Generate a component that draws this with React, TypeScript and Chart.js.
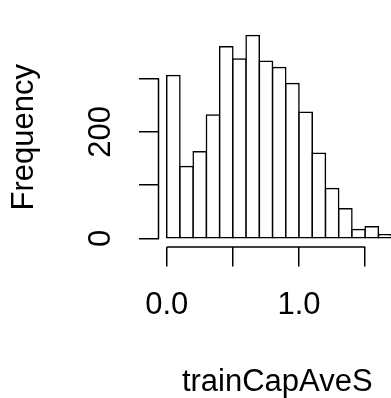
import React, { useEffect, useRef } from "react";
import { Chart, registerables } from "chart.js";

Chart.register(...registerables);

// Histogram bins (left edges) and bin width
const binStarts = [0.0, 0.1, 0.2, 0.3, 0.4, 0.5, 0.6, 0.7, 0.8, 0.9, 1.0, 1.1, 1.2, 1.3, 1.4, 1.5, 1.6];
const binWidth = 0.1;
// Frequencies per bin
const counts = [306, 135, 163, 232, 360, 337, 381, 333, 321, 291, 237, 160, 94, 56, 17, 22, 7];

const xTicks = [0, 0.5, 1.0, 1.5];
const xTickLabels = ["0.0", "", "1.0", ""];
const yTicks = [0, 100, 200, 300];
const yTickLabels = ["0", "", "200", ""];

const xTitle = "trainCapAveS";
const yTitle = "Frequency";

const FONT = "'Liberation Sans', Arial, Helvetica, sans-serif";
const FS = 31;

export default function App() {
  const ref = useRef<HTMLCanvasElement>(null);

  useEffect(() => {
    if (!ref.current) return;

    const axisLines = {
      id: "axisLines",
      afterDraw(chart: any) {
        const { ctx, chartArea, scales } = chart;
        const xs = scales.x;
        const ys = scales.y;
        ctx.save();
        ctx.strokeStyle = "#000";
        ctx.lineWidth = 1.5;
        ctx.beginPath();
        ctx.moveTo(xs.getPixelForValue(xTicks[0]), chartArea.bottom);
        ctx.lineTo(xs.getPixelForValue(xTicks[xTicks.length - 1]), chartArea.bottom);
        ctx.moveTo(chartArea.left, ys.getPixelForValue(yTicks[0]));
        ctx.lineTo(chartArea.left, ys.getPixelForValue(yTicks[yTicks.length - 1]));
        ctx.stroke();
        ctx.restore();
      },
    };

    const chart = new Chart(ref.current, {
      type: "bar",
      data: {
        datasets: [
          {
            data: binStarts.map((s, i) => ({ x: s + binWidth / 2, y: counts[i] })),
            backgroundColor: "#ffffff",
            borderColor: "#000000",
            borderWidth: 1.5,
            borderSkipped: false,
            inflateAmount: 0.75,
            barPercentage: 1,
            categoryPercentage: 1,
          } as any,
        ],
      },
      options: {
        responsive: false,
        animation: false,
        events: [],
        layout: { padding: { top: 24, right: 0, bottom: 0, left: 0 } },
        plugins: { legend: { display: false }, tooltip: { enabled: false } },
        scales: {
          x: {
            type: "linear",
            min: -0.062,
            max: 1.733,
            offset: false,
            afterBuildTicks: (s: any) => {
              s.ticks = xTicks.map((v) => ({ value: v }));
            },
            afterFit: (s: any) => {
              s.height = 151;
            },
            grid: {
              offset: false,
              drawOnChartArea: false,
              drawTicks: true,
              tickLength: 19.5,
              color: "#000",
              lineWidth: 1.5,
            },
            border: { display: false },
            ticks: {
              autoSkip: false,
              maxRotation: 0,
              minRotation: 0,
              padding: 23.6,
              color: "#000",
              font: { family: FONT, size: FS, lineHeight: 1 },
              callback: (_v: any, i: number) => xTickLabels[i],
            },
            title: {
              display: true,
              text: xTitle,
              color: "#000",
              font: { family: FONT, size: FS, lineHeight: 1 },
              padding: { top: 0, bottom: 0 },
            },
          } as any,
          y: {
            type: "linear",
            min: -16,
            max: 396,
            afterBuildTicks: (s: any) => {
              s.ticks = yTicks.map((v) => ({ value: v }));
            },
            afterFit: (s: any) => {
              s.width = 158.5;
            },
            grid: {
              drawOnChartArea: false,
              drawTicks: true,
              tickLength: 19.5,
              color: "#000",
              lineWidth: 1.5,
            },
            border: { display: false },
            ticks: {
              autoSkip: false,
              minRotation: 90,
              maxRotation: 90,
              crossAlign: "center",
              padding: 12.1,
              color: "#000",
              font: { family: FONT, size: FS, lineHeight: 1 },
              callback: (_v: any, i: number) => yTickLabels[i],
            },
            title: {
              display: true,
              text: yTitle,
              color: "#000",
              font: { family: FONT, size: FS, lineHeight: 1 },
              padding: { top: 8.8, bottom: 0 },
            },
          } as any,
        },
      },
      plugins: [axisLines],
    });

    return () => chart.destroy();
  }, []);

  return (
    <div
      style={{
        position: "fixed",
        left: 0,
        top: 0,
        width: 391,
        height: 398,
        overflow: "hidden",
        background: "#fff",
      }}
    >
      <canvas ref={ref} width={396} height={398} style={{ display: "block" }} />
    </div>
  );
}
